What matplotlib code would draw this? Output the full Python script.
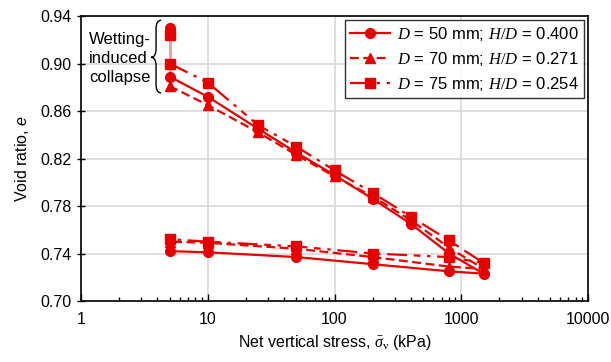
import matplotlib
matplotlib.use("Agg")
import matplotlib.pyplot as plt
from matplotlib.path import Path
from matplotlib.patches import PathPatch
import numpy as np

plt.rcParams['font.family'] = ['Liberation Sans', 'DejaVu Sans']
plt.rcParams['mathtext.fontset'] = 'custom'
plt.rcParams['mathtext.it'] = 'Liberation Serif:italic'
plt.rcParams['mathtext.rm'] = 'Liberation Serif'
plt.rcParams['mathtext.sf'] = 'Liberation Sans:italic'

RED = '#E80000'
PINK = '#F29A9A'

# loading path (after wetting at 5 kPa) then unloading
stress = [5, 10, 25, 50, 100, 200, 400, 800, 1500, 800, 200, 50, 10, 5]
e_d50 = [0.889, 0.872, 0.845, 0.825, 0.806, 0.786, 0.765, 0.740, 0.723,
         0.725, 0.731, 0.737, 0.741, 0.742]
e_d70 = [0.881, 0.865, 0.842, 0.823, 0.805, 0.788, 0.768, 0.745, 0.727,
         0.729, 0.737, 0.744, 0.749, 0.750]
e_d75 = [0.900, 0.884, 0.848, 0.830, 0.810, 0.791, 0.771, 0.751, 0.732,
         0.737, 0.740, 0.746, 0.750, 0.752]

# wetting at 5 kPa: void ratio before and after collapse
wet_stress = [5, 5]
wet_d50 = [0.930, 0.889]
wet_d75 = [0.924, 0.900]

labels = [r'$D$ = 50 mm; $H/D$ = 0.400',
          r'$D$ = 70 mm; $H/D$ = 0.271',
          r'$D$ = 75 mm; $H/D$ = 0.254']

fig = plt.figure(figsize=(6.11, 3.62), dpi=100)
ax = fig.add_axes([0.1326, 0.1685, 0.8298, 0.7873])

# wetting-induced collapse segment
ax.plot(wet_stress, wet_d50, color=PINK, lw=2.0, zorder=2)
ax.plot(wet_stress[:1], wet_d50[:1], 'o', color=RED, ms=7, zorder=3)
ax.plot(wet_stress[:1], wet_d75[:1], 's', color=RED, ms=7, zorder=3)

ax.plot(stress, e_d50, color=RED, lw=1.6, ls='-', marker='o', ms=7, label=labels[0], zorder=3)
ax.plot(stress, e_d70, color=RED, lw=1.6, ls=(0, (4, 2)), marker='^', ms=7.5, label=labels[1], zorder=3)
ax.plot(stress, e_d75, color=RED, lw=1.6, ls=(0, (9, 3, 1.5, 3, 3, 3)), marker='s', ms=7,
        label=labels[2], zorder=3)

ax.set_xscale('log')
ax.set_xlim(1, 10000)
ax.set_ylim(0.70, 0.94)
ax.set_yticks(np.arange(0.70, 0.941, 0.04))
ax.set_yticklabels([f'{v:.2f}' for v in np.arange(0.70, 0.941, 0.04)])
ax.set_xticks([1, 10, 100, 1000, 10000])
ax.set_xticklabels(['1', '10', '100', '1000', '10000'])

ax.grid(True, which='major', color='#d9d9d9', lw=1.2)
ax.set_axisbelow(True)
for s in ax.spines.values():
    s.set_linewidth(1.2)
ax.tick_params(axis='x', which='major', direction='in', length=5, width=1, labelsize=11.5, pad=8)
ax.tick_params(axis='x', which='minor', direction='in', length=3, width=1)
ax.tick_params(axis='y', which='major', direction='inout', length=6, width=1, labelsize=11.5)

ax.set_xlabel(r'Net vertical stress, $\bar{\sigma}_{\mathrm{v}}$ (kPa)', fontsize=11.5, labelpad=4)
ax.set_ylabel(r'Void ratio, $\mathsf{e}$', fontsize=11.5, labelpad=7)

leg = ax.legend(loc='upper right', fontsize=12, frameon=True, fancybox=False,
                edgecolor='black', handlelength=2.4, borderpad=0.3,
                labelspacing=0.4, handletextpad=0.4, borderaxespad=0.25)
leg.get_frame().set_linewidth(1.0)

# brace and annotation
xl, xm, xr = 0.138, 0.148, 0.158
yt, yc, yb = 0.985, 0.855, 0.73
d = 0.03
verts = [(xr, yt), (xm, yt), (xm, yt - d),
         (xm, yc + d), (xm, yc), (xl, yc),
         (xm, yc), (xm, yc - d),
         (xm, yb + d), (xm, yb), (xr, yb)]
codes = [Path.MOVETO, Path.CURVE3, Path.CURVE3,
         Path.LINETO, Path.CURVE3, Path.CURVE3,
         Path.CURVE3, Path.CURVE3,
         Path.LINETO, Path.CURVE3, Path.CURVE3]
ax.add_patch(PathPatch(Path(verts, codes), transform=ax.transAxes, fill=False,
                       lw=1.0, edgecolor='black', clip_on=False))
ax.text(0.016, 0.945, 'Wetting-\ninduced\ncollapse', transform=ax.transAxes,
        fontsize=12, va='top', ha='left', linespacing=1.35)

fig.savefig('out.png', dpi=100)
